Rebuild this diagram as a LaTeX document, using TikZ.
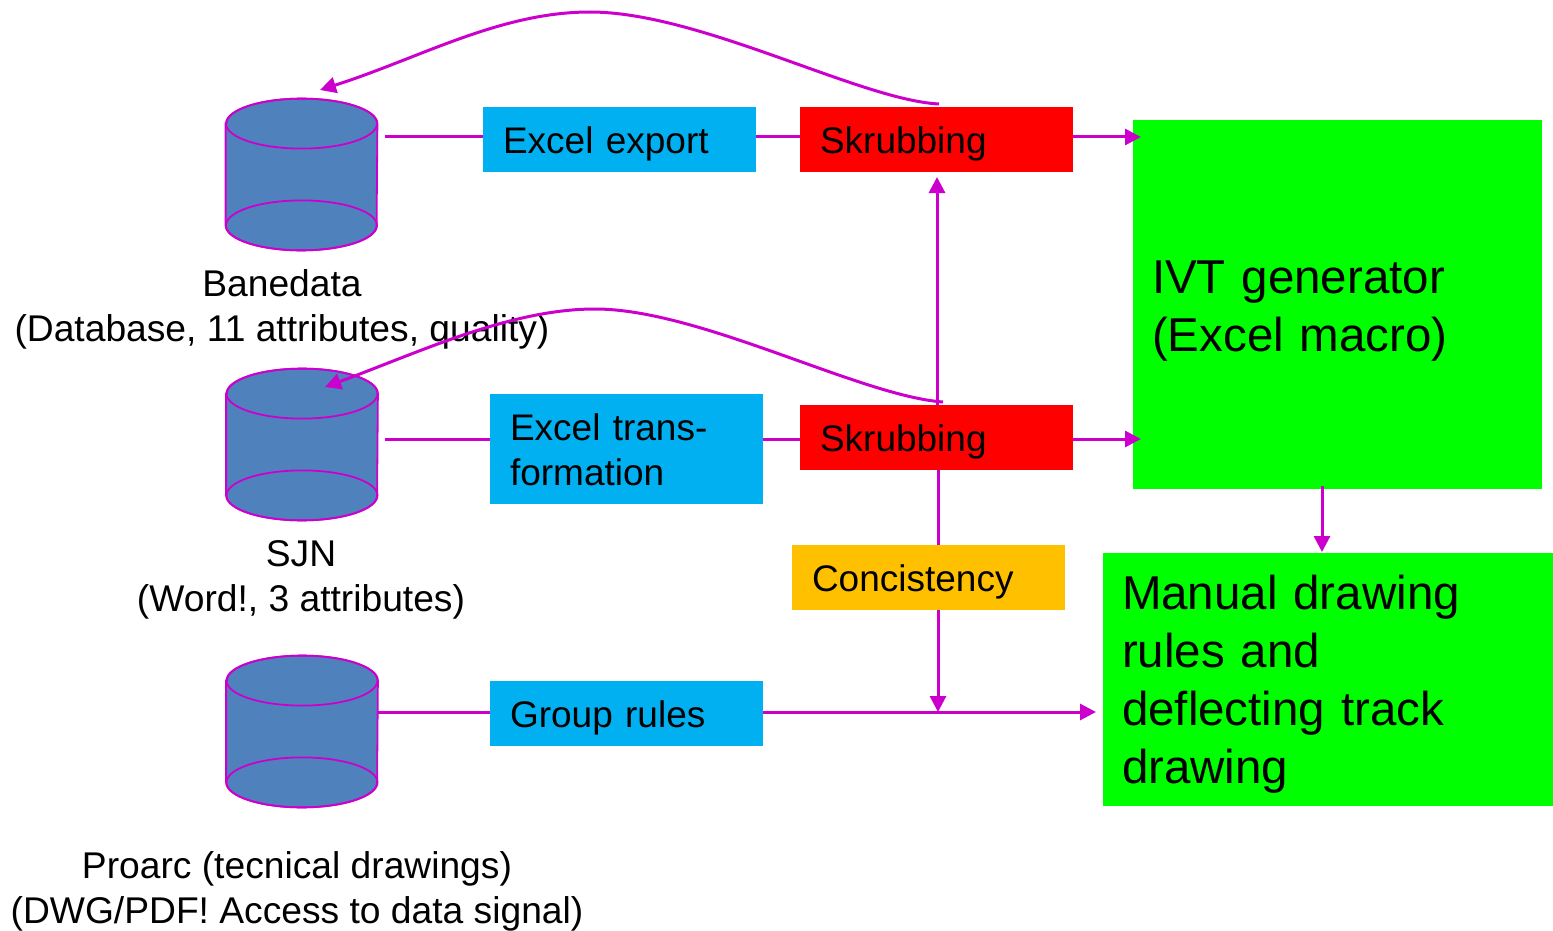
\documentclass[tikz,border=0pt]{standalone}
\usepackage{fontspec}
\setmainfont{Liberation Sans}
\usetikzlibrary{arrows.meta, positioning}
\definecolor{linkc}{HTML}{CC00CC}
\definecolor{dbc}{HTML}{4F81BD}
\definecolor{bluec}{HTML}{00B0F0}
\definecolor{orangec}{HTML}{FFC000}

\begin{document}
\begin{tikzpicture}[
	x=0.5pt, y=-0.5pt,
	db/.style = {minimum width=75.5pt, minimum height=75.5pt, inner sep=0pt},
	dbline/.style = {draw=linkc, line width=0.9pt},
	box/.style = {minimum width=136.5pt, minimum height=32.5pt, inner xsep=10pt, inner ysep=0pt,
		text width=116.5pt, text height=13.6pt, text depth=0pt, align=left,
		font=\fontsize{18.5}{22.5}\selectfont},
	big/.style = {inner xsep=9.5pt, inner ysep=0pt, align=left,
		font=\fontsize{23.75}{29}\selectfont},
	lbl/.style = {align=center, inner sep=0pt, font=\fontsize{18.6}{22.5}\selectfont},
	link/.style = {draw=linkc, line width=1.5pt},
	linkto/.style = {link, -{Triangle[length=8pt, width=8pt]}}
	]
	\useasboundingbox (0,0) rectangle (1553,931);
%
	\node[db] (banedata) at (301.5,174.5) {};
	\node[db] (sjn) at (302,444.5) {};
	\node[db] (proarc) at (302,731.5) {};
	\foreach \dbname in {banedata,sjn,proarc} {
		\draw[dbline, fill=dbc] ([yshift=-12.5pt] \dbname.north west)
			-- ([yshift=12.5pt] \dbname.south west) arc [start angle=180, end angle=360, x radius=37.75pt, y radius=12.5pt]
			-- ([yshift=-12.5pt] \dbname.north east) arc [start angle=0, end angle=180, x radius=37.75pt, y radius=12.5pt] -- cycle;
		\draw[dbline] ([yshift=-12.5pt] \dbname.north) ellipse [x radius=37.75pt, y radius=12.5pt];
		\draw[dbline] ([yshift=12.5pt] \dbname.south) ellipse [x radius=37.75pt, y radius=12.5pt];
	}
%
	\node[lbl] (banedatatext) at (282,309) {Banedata\\(Database, 11 attributes, quality)};
	\node[lbl] (sjntext) at (301,579.5) {SJN\\(Word!, 3 attributes)};
	\node[lbl] (proarctext) at (297,891.5) {Proarc (tecnical drawings)\\(DWG/PDF! Access to data signal)};
%
	\node[box, fill=bluec] (export) at (619.5,139.5) {Excel export};
	\node[box, fill=red] (skrub1) at (936.5,139.5) {Skrubbing};
	\node[box, fill=bluec, minimum height=55pt, text height=, text depth=21.5pt] (transform) at (626.5,449) {Excel trans-\\formation};
	\node[box, fill=red] (skrub2) at (936.5,437.5) {Skrubbing};
	\node[box, fill=orangec] (concistency) at (928.5,577.5) {Concistency};
	\node[box, fill=bluec] (group) at (626.5,713.5) {Group rules};
	\node[big, fill=green, minimum width=204.5pt, minimum height=184.5pt, text width=185.5pt, text depth=27.5pt] (ivt) at (1337.5,304.5) {IVT generator\\(Excel macro)};
	\node[big, fill=green, minimum width=225pt, minimum height=126.5pt, text width=206pt, text depth=87pt] (manual) at (1328,679.5) {Manual drawing\\rules and\\deflecting track\\drawing};
%
	\coordinate (out1) at (385,137);
	\coordinate (out2) at (385,439);
	\coordinate (out3) at (378,712);
	\coordinate (in1) at (1141,137);
	\coordinate (in2) at (1141,439);
	\coordinate (in3) at (1096,712);
	\coordinate (join) at (938,712);
	\coordinate (up) at (937,177);
	\coordinate (back1) at (320,90);
	\coordinate (back2) at (325,387);
	\coordinate (from1) at (939,104);
	\coordinate (from2) at (943,402);
	\coordinate (ivtout) at (1322,486);
	\coordinate (manualin) at (1322,552);
%
	\draw[link] (out1) -- (out1 -| export.west);
	\draw[link] (export.east |- out1) -- (out1 -| skrub1.west);
	\draw[linkto] (skrub1.east |- out1) -- (in1);
%
	\draw[link] (out2) -- (out2 -| transform.west);
	\draw[link] (transform.east |- out2) -- (out2 -| skrub2.west);
	\draw[linkto] (skrub2.east |- out2) -- (in2);
%
	\draw[link] (out3) -- (out3 -| group.west);
	\draw[linkto] (group.east |- out3) -- (in3);
%
	\draw[linkto] (up |- skrub2.north) -- (up);
	\draw[link] (join |- skrub2.south) -- (join |- concistency.north);
	\draw[linkto] (join |- concistency.south) -- (join);
	\draw[linkto] (ivtout) -- (manualin);
%
	\draw[linkto] (from1) .. controls (860,100) and (700,12) .. (590,12)
		.. controls (500,12) and (420,58) .. (back1);
	\draw[linkto] (from2) .. controls (860,396) and (700,309) .. (595,309)
		.. controls (510,309) and (420,352) .. (back2);
\end{tikzpicture}
\end{document}
